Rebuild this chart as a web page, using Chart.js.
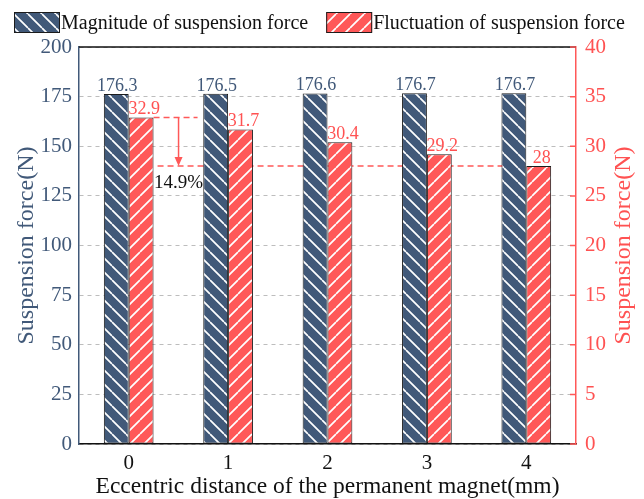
<!DOCTYPE html>
<html>
<head>
<meta charset="utf-8">
<script src="https://cdn.jsdelivr.net/npm/chart.js@4.4.1/dist/chart.umd.min.js"></script>
<style>
  html, body { margin: 0; padding: 0; background: #ffffff; }
  #wrap { width: 644px; height: 499px; }
</style>
</head>
<body>
<div id="wrap"><canvas id="c" width="644" height="499"></canvas></div>
<script>
// Eccentric distance of the permanent magnet (mm)
const categories = ['0', '1', '2', '3', '4'];
// Magnitude of suspension force (N), left axis
const magnitude = [176.3, 176.5, 176.6, 176.7, 176.7];
// Fluctuation of suspension force (N), right axis
const fluctuation = [32.9, 31.7, 30.4, 29.2, 28];
// Axis ranges and tick steps
const leftAxis = { min: 0, max: 200, step: 25 };
const rightAxis = { min: 0, max: 40, step: 5 };

const SERIF = "'Liberation Serif', 'Times New Roman', serif";
const BLUE = '#415979';
const RED = '#ff5858';
const RED_TEXT = '#ff5252';
const EDGE = '#1c1c1c';

function hatch(bg, backslash) {
  const s = 14;
  const c = document.createElement('canvas');
  c.width = s; c.height = s;
  const g = c.getContext('2d');
  g.fillStyle = bg;
  g.fillRect(0, 0, s, s);
  g.strokeStyle = '#ffffff';
  g.lineWidth = 1.7;
  g.beginPath();
  for (const x0 of [-s, 0, s]) {
    if (backslash) { g.moveTo(x0, 0); g.lineTo(x0 + s, s); }
    else { g.moveTo(x0, s); g.lineTo(x0 + s, 0); }
  }
  g.stroke();
  return g.createPattern(c, 'repeat');
}

const blueHatch = hatch(BLUE, true);
const redHatch = hatch(RED, false);

// Value labels above every bar
const valueLabels = {
  id: 'valueLabels',
  afterDatasetsDraw(chart) {
    const ctx = chart.ctx;
    ctx.save();
    ctx.font = '18px ' + SERIF;
    ctx.textAlign = 'center';
    ctx.textBaseline = 'alphabetic';
    chart.data.datasets.forEach((ds, di) => {
      const meta = chart.getDatasetMeta(di);
      ctx.fillStyle = di === 0 ? BLUE : RED_TEXT;
      const dx = di === 0 ? 1 : 3;
      meta.data.forEach((bar, i) => {
        ctx.fillText(String(ds.data[i]), bar.x + dx, bar.y - 3);
      });
    });
    ctx.restore();
  }
};

// Drop of the fluctuation from 0 mm to 4 mm: dashed levels, arrow and percentage
const reduction = {
  id: 'reduction',
  beforeDatasetsDraw(chart) {
    const meta = chart.getDatasetMeta(1);
    const b0 = meta.data[0], b4 = meta.data[meta.data.length - 1];
    const r0 = b0.x + b0.width / 2;
    const ctx = chart.ctx;
    ctx.save();
    ctx.strokeStyle = RED;
    ctx.lineWidth = 1.5;
    ctx.setLineDash([6, 4]);
    ctx.beginPath();
    ctx.moveTo(r0, b0.y); ctx.lineTo(r0 + 44, b0.y);
    ctx.moveTo(r0 + 4, b4.y); ctx.lineTo(b4.x - b4.width / 2, b4.y);
    ctx.stroke();
    ctx.restore();
  },
  afterDatasetsDraw(chart) {
    const meta = chart.getDatasetMeta(1);
    const b0 = meta.data[0], b4 = meta.data[meta.data.length - 1];
    const ax = b0.x + b0.width / 2 + 25;
    const ctx = chart.ctx;
    ctx.save();
    ctx.strokeStyle = RED;
    ctx.fillStyle = RED;
    ctx.lineWidth = 1.5;
    ctx.beginPath();
    ctx.moveTo(ax, b0.y); ctx.lineTo(ax, b4.y - 6);
    ctx.stroke();
    ctx.beginPath();
    ctx.moveTo(ax, b4.y);
    ctx.lineTo(ax - 4, b4.y - 9);
    ctx.lineTo(ax + 4, b4.y - 9);
    ctx.closePath();
    ctx.fill();
    const first = fluctuation[0], last = fluctuation[fluctuation.length - 1];
    const pct = ((first - last) / first * 100).toFixed(1) + '%';
    ctx.fillStyle = '#111111';
    ctx.font = '19px ' + SERIF;
    ctx.textAlign = 'center';
    ctx.textBaseline = 'alphabetic';
    ctx.fillText(pct, ax, b4.y + 22);
    ctx.restore();
  }
};

// Frame details: top border, inward ticks on the right axis, right axis title, legend
const frame = {
  id: 'frame',
  afterDraw(chart) {
    const { ctx, chartArea: a } = chart;
    const y1 = chart.scales.y1;
    ctx.save();
    ctx.strokeStyle = '#111111';
    ctx.lineWidth = 1.5;
    ctx.beginPath();
    ctx.moveTo(a.left, a.top); ctx.lineTo(a.right, a.top);
    ctx.stroke();

    ctx.strokeStyle = RED;
    ctx.lineWidth = 1.5;
    ctx.beginPath();
    y1.ticks.forEach(t => {
      const py = y1.getPixelForValue(t.value);
      ctx.moveTo(a.right - 6, py); ctx.lineTo(a.right, py);
    });
    ctx.stroke();

    ctx.fillStyle = RED_TEXT;
    ctx.font = '24px ' + SERIF;
    ctx.textAlign = 'center';
    ctx.textBaseline = 'middle';
    ctx.translate(624, (a.top + a.bottom) / 2);
    ctx.rotate(-Math.PI / 2);
    ctx.fillText('Suspension force(N)', 0, 0);
    ctx.restore();

    // legend
    ctx.save();
    ctx.font = '20px ' + SERIF;
    ctx.textBaseline = 'middle';
    ctx.textAlign = 'left';
    let x = 14;
    const by = 12, bw = 46, bh = 21;
    chart.data.datasets.forEach(ds => {
      ctx.fillStyle = ds.backgroundColor;
      ctx.fillRect(x, by, bw, bh);
      ctx.strokeStyle = EDGE;
      ctx.lineWidth = 1;
      ctx.strokeRect(x + 0.5, by + 0.5, bw - 1, bh - 1);
      ctx.fillStyle = '#111111';
      ctx.fillText(ds.label, x + bw + 1, by + bh / 2 + 1);
      x += bw + 1 + ctx.measureText(ds.label).width + 18;
    });
    ctx.restore();
  }
};

new Chart(document.getElementById('c'), {
  type: 'bar',
  data: {
    labels: categories,
    datasets: [
      {
        label: 'Magnitude of suspension force',
        data: magnitude,
        yAxisID: 'y',
        backgroundColor: blueHatch,
        borderColor: EDGE,
        borderWidth: 1,
        borderSkipped: false,
        categoryPercentage: 0.5,
        barPercentage: 1
      },
      {
        label: 'Fluctuation of suspension force',
        data: fluctuation,
        yAxisID: 'y1',
        backgroundColor: redHatch,
        borderColor: EDGE,
        borderWidth: 1,
        borderSkipped: false,
        categoryPercentage: 0.5,
        barPercentage: 1
      }
    ]
  },
  options: {
    responsive: false,
    animation: false,
    events: [],
    layout: { padding: { top: 47, left: 0, right: 0, bottom: 0 } },
    plugins: {
      legend: { display: false },
      tooltip: { enabled: false }
    },
    scales: {
      x: {
        type: 'category',
        offset: true,
        grid: { display: false, drawTicks: false },
        border: { color: '#111111', width: 1.5 },
        ticks: { color: '#111111', font: { family: SERIF, size: 21 }, padding: 7 },
        title: {
          display: true,
          text: 'Eccentric distance of the permanent magnet(mm)',
          color: '#111111',
          font: { family: SERIF, size: 23.5, lineHeight: 1.0 },
          padding: { top: 0, bottom: 0 }
        },
        afterFit(s) { s.height = 55; }
      },
      y: {
        position: 'left',
        min: leftAxis.min,
        max: leftAxis.max,
        ticks: { stepSize: leftAxis.step, color: BLUE, font: { family: SERIF, size: 21 }, padding: 7 },
        grid: { color: '#bdbdbd', lineWidth: 1, drawTicks: false },
        border: { color: BLUE, width: 1.5, dash: [4, 4] },
        title: {
          display: true,
          text: 'Suspension force(N)',
          color: BLUE,
          font: { family: SERIF, size: 24 },
          padding: { top: 12, bottom: 0 }
        },
        afterFit(s) { s.width = 79; }
      },
      y1: {
        position: 'right',
        min: rightAxis.min,
        max: rightAxis.max,
        ticks: { stepSize: rightAxis.step, color: RED_TEXT, font: { family: SERIF, size: 21 }, padding: 9 },
        grid: { drawOnChartArea: false, drawTicks: false },
        border: { color: RED, width: 1.5 },
        afterFit(s) { s.width = 68; }
      }
    }
  },
  plugins: [reduction, valueLabels, frame]
});
</script>
</body>
</html>
